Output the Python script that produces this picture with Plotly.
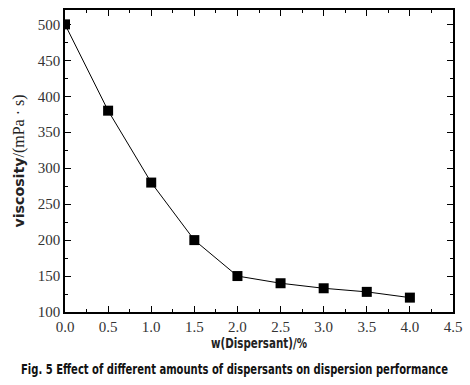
import plotly.graph_objects as go

dispersant = [0.0, 0.5, 1.0, 1.5, 2.0, 2.5, 3.0, 3.5, 4.0]
viscosity = [500, 380, 280, 200, 150, 140, 133, 128, 120]
x_ticks = [0.0, 0.5, 1.0, 1.5, 2.0, 2.5, 3.0, 3.5, 4.0, 4.5]
x_ticktext = ["0.0", "0.5", "1.0", "1.5", "2.0", "2.5", "3.0", "3.5", "4.0", "4.5"]
y_ticks = [100, 150, 200, 250, 300, 350, 400, 450, 500]

cond = "DejaVu Sans"
serif = "Liberation Serif"

fig = go.Figure()
fig.add_trace(go.Scatter(
    x=dispersant, y=viscosity, mode="lines+markers",
    line=dict(color="black", width=1),
    marker=dict(symbol="square", size=10, color="black"),
    showlegend=False,
))

axis_common = dict(
    showline=True, linecolor="black", linewidth=1.5, mirror="allticks",
    ticks="inside", ticklen=6, tickcolor="black", tickwidth=1,
    showgrid=False, zeroline=False,
    tickfont=dict(family=serif, size=15, color="#333"),
)

fig.update_xaxes(
    range=[0, 4.5], tickvals=x_ticks, ticktext=x_ticktext,
    minor=dict(ticks="inside", ticklen=3, dtick=0.25, tick0=0, tickcolor="black"),
    title=dict(text="<b>w(Dispersant)/%</b>", font=dict(family=cond, size=14, color="#222"), standoff=1),
    **axis_common,
)
fig.update_yaxes(
    range=[100, 520], tickvals=y_ticks,
    minor=dict(ticks="inside", ticklen=3, dtick=25, tick0=100, tickcolor="black"),
    title=dict(text="<b>viscosity</b><span style='font-family:Liberation Serif;font-size:16px'>/(mPa · s)</span>",
               font=dict(family=cond, size=14, color="#222"), standoff=10),
    **axis_common,
)

fig.add_annotation(
    text="<b>Fig. 5 Effect of different amounts of dispersants on dispersion performance</b>",
    xref="paper", yref="paper", x=0.5, y=-0.19, xanchor="center", yanchor="middle",
    showarrow=False, font=dict(family=cond, size=14, color="#111"),
)

fig.update_layout(
    width=470, height=385,
    margin=dict(l=65, r=15, t=8, b=73),
    plot_bgcolor="white", paper_bgcolor="white",
    font=dict(family=serif, size=15, color="#333"),
)

js = """
document.body.style.margin='0';
function fit(el, len, left){
  if (!el) return;
  el.setAttribute('textLength', String(len));
  el.setAttribute('lengthAdjust', 'spacingAndGlyphs');
  var r = el.getBoundingClientRect();
  var dx = left - r.left;
  var t = el.getAttribute('transform') || '';
  el.setAttribute('transform', 'translate(' + dx + ',0) ' + t);
}
fit(document.querySelector('text.annotation-text'), 427, 21);
fit(document.querySelector('text.xtitle'), 96, 211);
var yt = document.querySelector('text.ytitle');
if (yt) { var ts = yt.querySelectorAll('tspan'); if (ts.length) { ts[0].setAttribute('textLength', '70'); ts[0].setAttribute('lengthAdjust', 'spacingAndGlyphs'); } }
"""

fig.write_html("out.html", post_script=js, config={"displayModeBar": False})
